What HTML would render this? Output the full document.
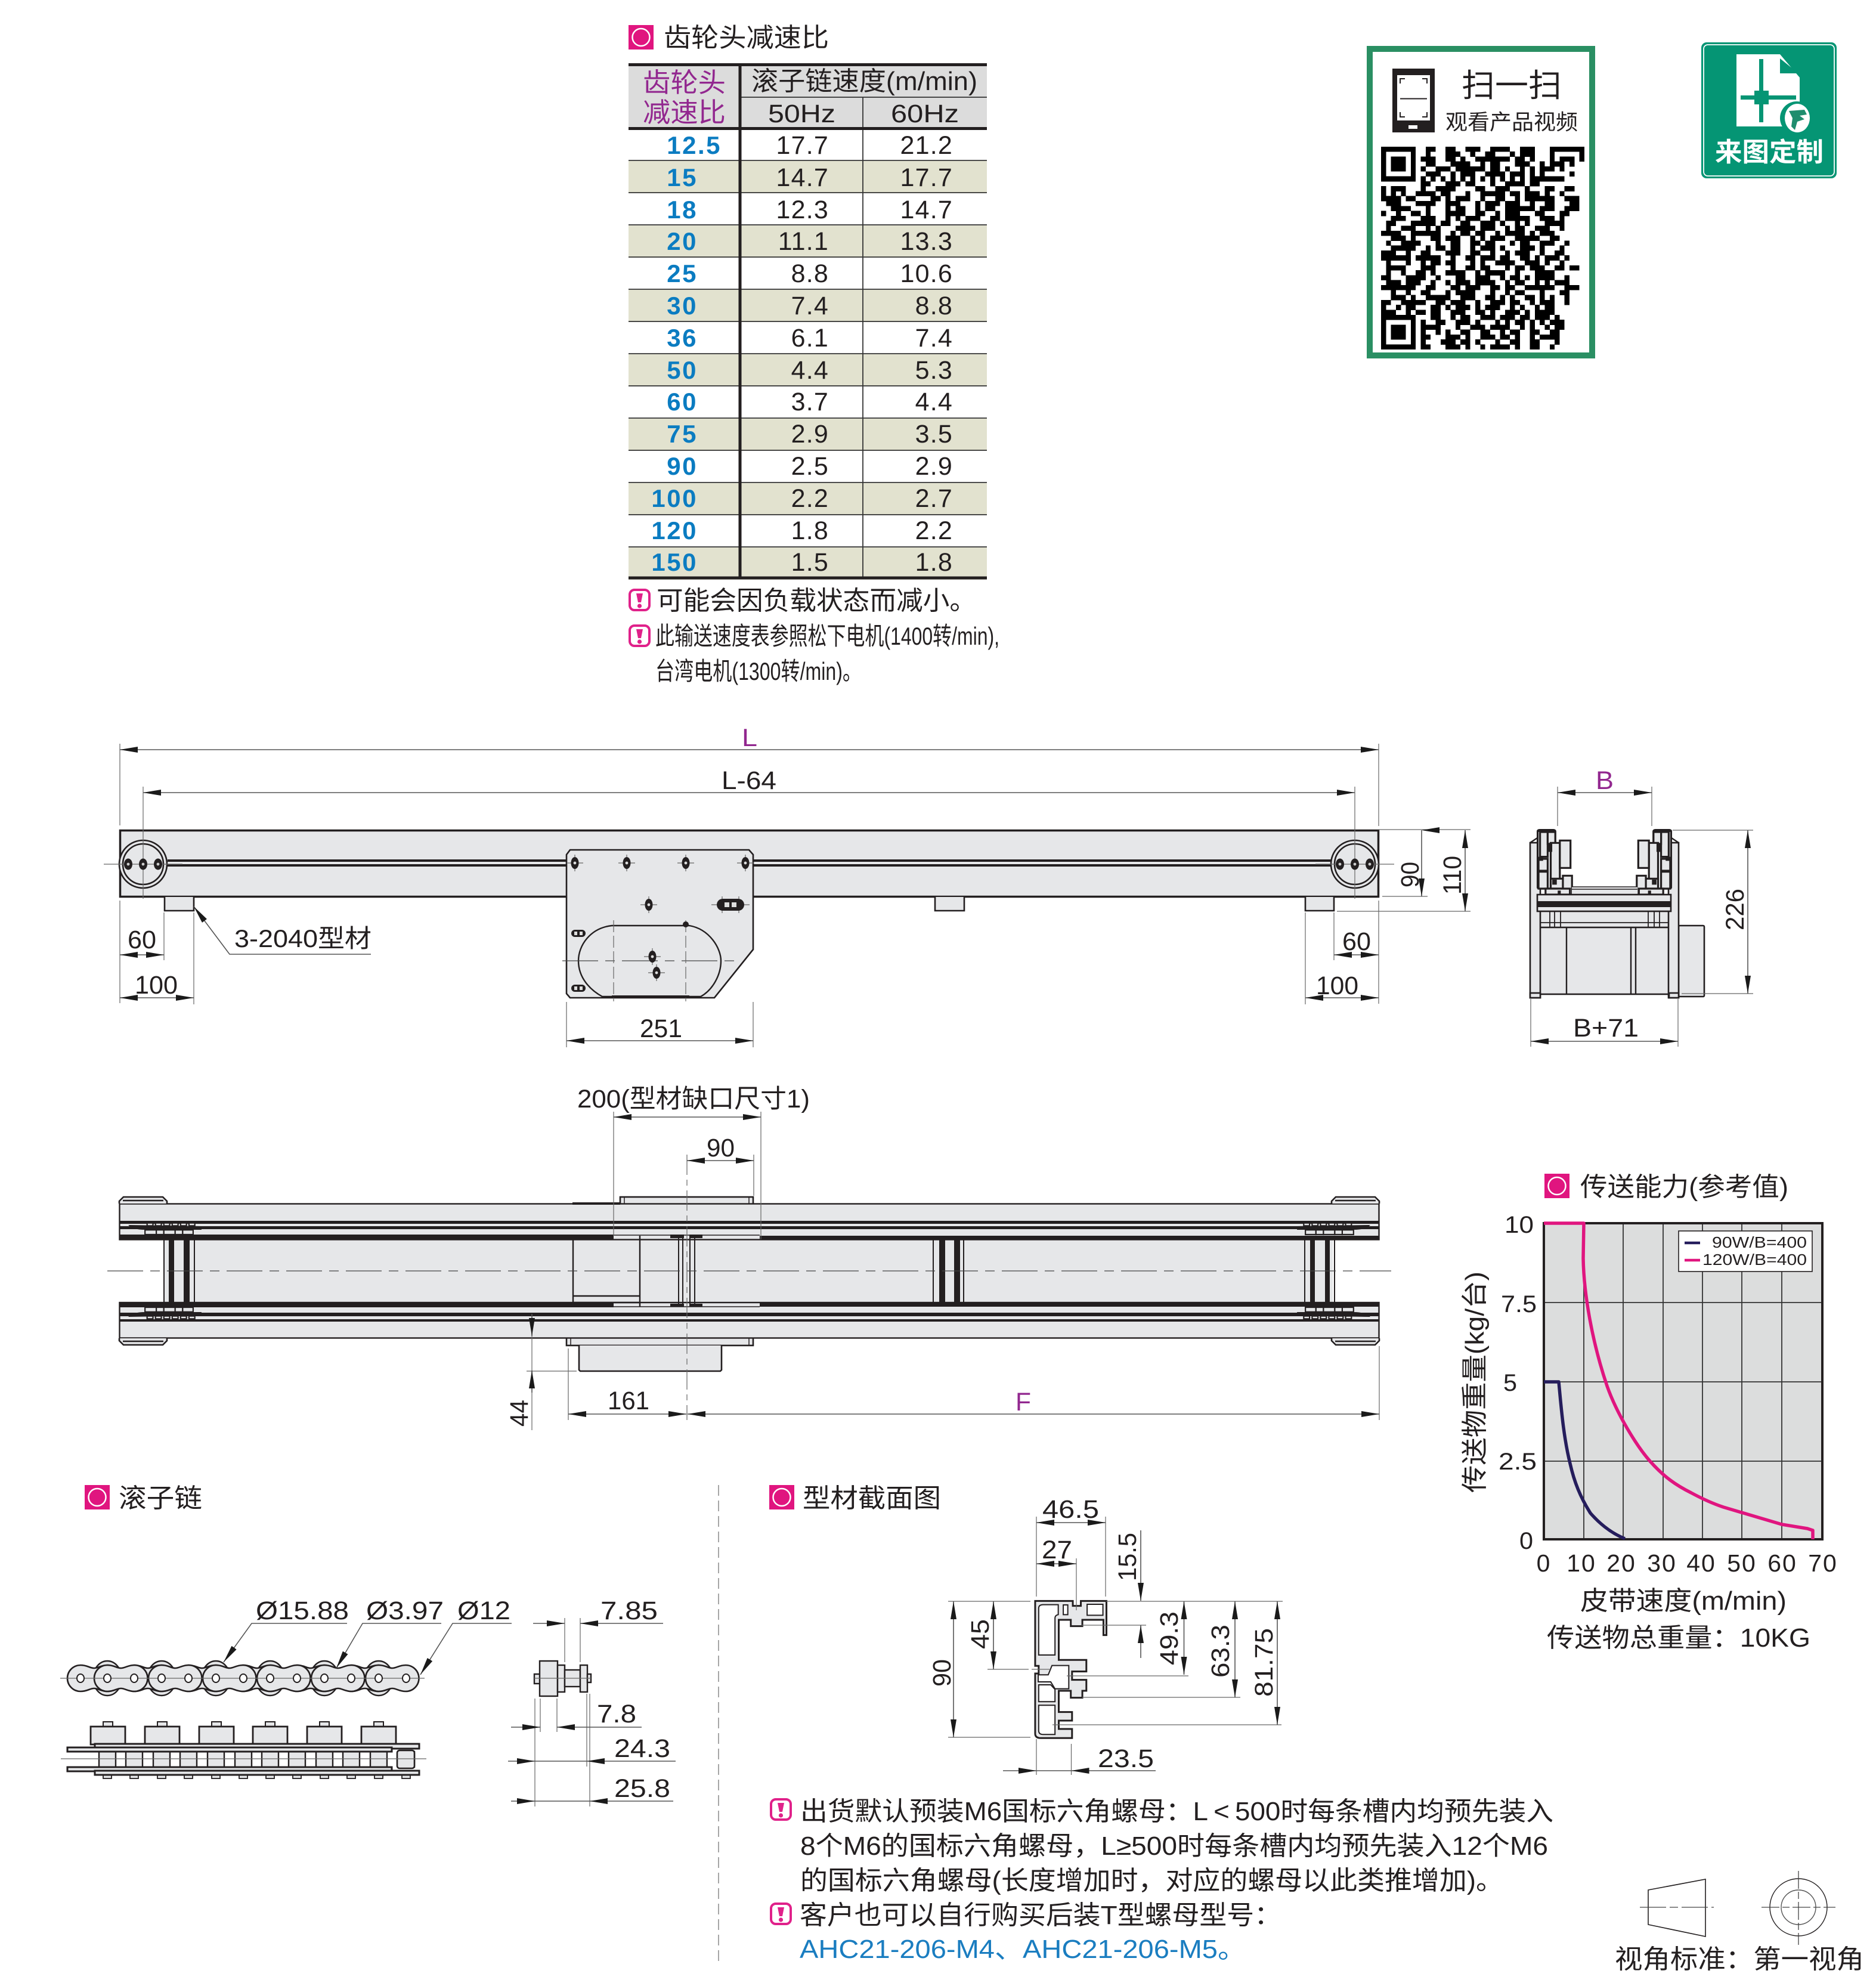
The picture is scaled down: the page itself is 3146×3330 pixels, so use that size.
<!DOCTYPE html>
<html><head><meta charset="utf-8"><title>AHC21 conveyor diagram</title>
<style>
html,body{margin:0;padding:0;background:#fff}
svg{display:block}
text{font-family:"Liberation Sans","Noto Sans CJK SC",sans-serif;fill:#231f20;font-size:43px}
.m{fill:#92278f}
.b{fill:#0b7cc1;font-weight:bold;font-size:42px;letter-spacing:2.5px}
.h{font-size:44px}
.d{stroke:#555;stroke-width:1.6;fill:none}
.e{stroke:#666;stroke-width:1.2;fill:none}
.o{stroke:#231f20;stroke-width:2.6;fill:#e6e7e9}
.l{stroke:#231f20;stroke-width:2.4;fill:none}
.k{stroke:#231f20;stroke-width:5;fill:none}
.c{stroke:#444;stroke-width:1.2;fill:none;stroke-dasharray:60 12 16 12}
.n{vector-effect:non-scaling-stroke}
.n *{vector-effect:non-scaling-stroke}
.g{stroke:#333;stroke-width:1.8;fill:none}
</style></head><body>
<svg xmlns="http://www.w3.org/2000/svg" width="3146" height="3330" viewBox="0 0 3146 3330">
<defs>
<marker id="a" markerWidth="30" markerHeight="10" refX="30" refY="5" orient="auto-start-reverse" markerUnits="userSpaceOnUse"><path d="M0 0L30 5L0 10z" fill="#1a1a1a"/></marker>
<g id="ic"><rect width="42" height="41" fill="#e0157f"/><circle cx="21" cy="20.5" r="14.5" fill="none" stroke="#fff" stroke-width="2.5"/></g>
<g id="w"><rect x="2" y="2" width="33" height="34" rx="8" fill="#fff" stroke="#e0218a" stroke-width="4"/><path d="M13 8H24L21 23H16z" fill="#e0218a"/><circle cx="18.5" cy="29" r="3.6" fill="#e0218a"/></g>
<g id="bt"><path d="M-14 0H14M0 -14V14" class="e"/><ellipse rx="6.5" ry="10" fill="#231f20"/><circle r="2.4" fill="#ddd"/></g>
<g id="sl"><rect x="-12" y="-6" width="24" height="12" rx="6" fill="#231f20"/><rect x="-7" y="-3" width="5" height="6" fill="#ddd"/><rect x="2" y="-3" width="5" height="6" fill="#ddd"/></g>
<g id="whl"><circle r="40" fill="#e6e7e9" stroke="#231f20" stroke-width="2.6"/><circle r="34" fill="none" stroke="#231f20" stroke-width="2.6"/><path d="M-66 0H66M0 -58V58" class="e"/><use href="#bt0" x="-25"/><use href="#bt0"/><use href="#bt0" x="25"/></g>
<g id="bt0"><ellipse rx="7" ry="9.5" fill="#231f20"/><circle r="2.4" fill="#ccc"/></g>
<path id="bone" d="M0 -22C12 -22 15 -17 23 -17C30 -17 34 -22 45.5 -22A22 22 0 0 1 45.5 22C34 22 30 17 23 17C15 17 12 22 0 22A22 22 0 0 1 0 -22z" fill="#e6e7e9" stroke="#231f20" stroke-width="2.6"/>
<g id="box"><rect x="-8" y="2887" width="16" height="8" fill="#e6e7e9" stroke="#231f20" stroke-width="2"/><rect x="-29" y="2895" width="58" height="30" fill="#e6e7e9" stroke="#231f20" stroke-width="2.8"/></g>
<g id="rol"><rect x="-14" y="2937" width="28" height="26" fill="#e6e7e9" stroke="#231f20" stroke-width="2.4"/><rect x="-7" y="2976" width="14" height="6" fill="#e6e7e9" stroke="#231f20" stroke-width="1.8"/></g>
<g id="endb">
<path d="M200 2018V2014L207 2007H273L280 2014V2018" class="o"/><path d="M206 2013H274" class="l" stroke-width="1.5"/>
<g class="n" transform="translate(180,1980) scale(.7018,.3333)">
<path d="M50 222L225 228V246H90Q60 246 50 222z" fill="#231f20"/>
<g fill="#e6e7e9" stroke="#231f20" stroke-width="2.2"><rect x="95" y="212" width="14" height="14"/><rect x="115" y="212" width="14" height="14"/><rect x="135" y="212" width="14" height="14"/><rect x="155" y="212" width="14" height="14"/><rect x="175" y="212" width="14" height="14"/><rect x="195" y="212" width="14" height="14"/><rect x="90" y="247" width="27" height="23"/><rect x="117" y="247" width="18" height="23"/><rect x="135" y="247" width="27" height="23"/><rect x="162" y="247" width="18" height="23"/><rect x="180" y="247" width="25" height="23"/></g>
</g>
</g>
<g id="ends"><use href="#endb"/><use href="#endb" transform="translate(0,4262) scale(1,-1)"/></g>
<g id="chn">
<rect x="2566" y="1413" width="17" height="260" class="o"/><path class="l" d="M2566 1413L2578 1405"/>
<g class="n" transform="translate(2200,1280) scale(.5102,.3333)">
<g fill="#e6e7e9" stroke="#231f20" stroke-width="3.200">
<rect x="742" y="335" width="58" height="295" rx="6"/><rect x="750" y="345" width="25" height="125"/><rect x="775" y="345" width="25" height="60"/><rect x="745" y="480" width="30" height="60"/><rect x="745" y="545" width="30" height="85"/><rect x="785" y="400" width="30" height="260"/><rect x="815" y="388" width="35" height="138"/><rect x="825" y="565" width="30" height="95"/><rect x="785" y="580" width="40" height="50"/><rect x="768" y="630" width="80" height="30"/>
</g>
<path fill="#231f20" d="M742 335H800V345H742zM778 400H790V445H778zM742 470H760V490H742zM790 585H805V610H790zM808 640H818V660H808z"/>
</g>
</g>
</defs>

<!-- speed table -->
<use href="#ic" x="1054" y="42"/>
<text x="1113" y="78" class="h" textLength="277" lengthAdjust="spacingAndGlyphs">齿轮头减速比</text>
<rect x="1054" y="108" width="601" height="108" fill="#dcdcdc"/>
<g fill="#e2e2cf"><rect x="1054" y="270" width="601" height="54"/><rect x="1054" y="378" width="601" height="54"/><rect x="1054" y="486" width="601" height="54"/><rect x="1054" y="594" width="601" height="54"/><rect x="1054" y="702" width="601" height="54"/><rect x="1054" y="810" width="601" height="54"/><rect x="1054" y="918" width="601" height="54"/></g>
<path class="g" d="M1241 163H1655M1054 269H1655M1054 323H1655M1054 377H1655M1054 431H1655M1054 485H1655M1054 539H1655M1054 593H1655M1054 647H1655M1054 701H1655M1054 755H1655M1054 809H1655M1054 863H1655M1054 917H1655M1447 163V971"/>
<path stroke="#231f20" stroke-width="5" fill="none" d="M1054 108.500H1655M1054 215.500H1655M1054 969H1655M1241 106V971"/>
<text x="1078" y="154" class="m" style="font-size:45px" textLength="139" lengthAdjust="spacingAndGlyphs">齿轮头</text>
<text x="1078" y="204" class="m" style="font-size:45px" textLength="139" lengthAdjust="spacingAndGlyphs">减速比</text>
<text x="1260" y="151" style="font-size:44px" textLength="379" lengthAdjust="spacingAndGlyphs">滚子链速度(m/min)</text>
<text x="1288" y="205" style="font-size:43px" textLength="113" lengthAdjust="spacingAndGlyphs">50Hz</text>
<text x="1494" y="205" style="font-size:43px" textLength="114" lengthAdjust="spacingAndGlyphs">60Hz</text>
<g text-anchor="end">
<text class="b" x="1210" y="258">12.5</text>
<text class="b" x="1170" y="312">15</text>
<text class="b" x="1170" y="366">18</text>
<text class="b" x="1170" y="419">20</text>
<text class="b" x="1170" y="473">25</text>
<text class="b" x="1170" y="527">30</text>
<text class="b" x="1170" y="581">36</text>
<text class="b" x="1170" y="635">50</text>
<text class="b" x="1170" y="688">60</text>
<text class="b" x="1170" y="742">75</text>
<text class="b" x="1170" y="796">90</text>
<text class="b" x="1170" y="850">100</text>
<text class="b" x="1170" y="904">120</text>
<text class="b" x="1170" y="957">150</text>
</g>
<g text-anchor="end" style="letter-spacing:1.2px">
<text x="1390" y="258">17.7</text><text x="1598" y="258">21.2</text>
<text x="1390" y="312">14.7</text><text x="1598" y="312">17.7</text>
<text x="1390" y="366">12.3</text><text x="1598" y="366">14.7</text>
<text x="1390" y="419">11.1</text><text x="1598" y="419">13.3</text>
<text x="1390" y="473">8.8</text><text x="1598" y="473">10.6</text>
<text x="1390" y="527">7.4</text><text x="1598" y="527">8.8</text>
<text x="1390" y="581">6.1</text><text x="1598" y="581">7.4</text>
<text x="1390" y="635">4.4</text><text x="1598" y="635">5.3</text>
<text x="1390" y="688">3.7</text><text x="1598" y="688">4.4</text>
<text x="1390" y="742">2.9</text><text x="1598" y="742">3.5</text>
<text x="1390" y="796">2.5</text><text x="1598" y="796">2.9</text>
<text x="1390" y="850">2.2</text><text x="1598" y="850">2.7</text>
<text x="1390" y="904">1.8</text><text x="1598" y="904">2.2</text>
<text x="1390" y="957">1.5</text><text x="1598" y="957">1.8</text>
</g>
<use href="#w" x="1054" y="987"/>
<text x="1101" y="1022" class="h" textLength="536" lengthAdjust="spacingAndGlyphs">可能会因负载状态而减小。</text>
<use href="#w" x="1054" y="1047"/>
<text x="1099" y="1081" style="font-size:42px" textLength="577" lengthAdjust="spacingAndGlyphs">此输送速度表参照松下电机(1400转/min),</text>
<text x="1099" y="1140" style="font-size:42px" textLength="346" lengthAdjust="spacingAndGlyphs">台湾电机(1300转/min)。</text>

<!-- QR card -->
<rect x="2297" y="82" width="373" height="514" fill="#fff" stroke="#2a8f63" stroke-width="10"/>
<rect x="2335" y="115" width="71" height="107" fill="#231f20"/><rect x="2343" y="126" width="55" height="76" fill="#fff"/><rect x="2362" y="210" width="15" height="6" fill="#fff"/>
<path d="M2348 140V132H2356M2393 140V132H2385M2348 188V196H2356M2393 188V196H2385M2348 165.500H2393" fill="none" stroke="#231f20" stroke-width="2"/>
<text x="2451" y="162" style="font-size:54px" textLength="168" lengthAdjust="spacingAndGlyphs">扫一扫</text>
<text x="2424" y="217" style="font-size:36px" textLength="222" lengthAdjust="spacingAndGlyphs">观看产品视频</text>
<g transform="translate(2316,246) scale(8.317,8.293)"><path fill="none" stroke="#000" stroke-width="1.050" shape-rendering="crispEdges" d="
M0 .5h7m2 0h2m2 0h2m2 0h3m2 0h4m2 0h3m3 0h7
M0 1.500h1m5 0h1m2 0h1m3 0h3m2 0h1m2 0h2m3 0h1m1 0h3m3 0h1m5 0h1
M0 2.500h1m1 0h3m1 0h1m1 0h3m2 0h2m1 0h1m2 0h7m1 0h2m1 0h1m3 0h1m1 0h3m1 0h1
M0 3.500h1m1 0h3m1 0h1m2 0h2m3 0h4m2 0h1m1 0h2m3 0h3m2 0h1m1 0h3m1 0h1
M0 4.500h1m1 0h3m1 0h1m1 0h1m2 0h3m1 0h6m1 0h2m1 0h1m2 0h1m1 0h1m1 0h3m1 0h1
M0 5.500h1m5 0h1m2 0h3m2 0h1m1 0h3m2 0h4m1 0h3m1 0h1m1 0h1m5 0h1
M0 6.500h7m1 0h1m1 0h1m1 0h1m1 0h1m1 0h1m1 0h1m1 0h1m1 0h1m1 0h1m1 0h1m1 0h1m1 0h7
M8 7.500h2m3 0h3m1 0h2m3 0h1m2 0h4m1 0h2
M0 8.500h1m1 0h3m3 0h1m2 0h4m4 0h2m2 0h3m3 0h1m3 0h2m2 0h2
M0 9.500h1m1 0h1m1 0h1m2 0h4m1 0h2m3 0h1m2 0h5m1 0h2m1 0h3m1 0h1m2 0h1
M0 10.500h4m1 0h2m3 0h2m1 0h1m1 0h3m2 0h1m2 0h2m2 0h1m1 0h6m2 0h3
M1 11.500h3m3 0h4m2 0h3m3 0h1m1 0h3m1 0h3m2 0h1m2 0h2m3 0h2
M2 12.500h4m3 0h1m3 0h1m1 0h2m2 0h1m1 0h2m2 0h6m1 0h3m2 0h3
M0 13.500h1m2 0h1m2 0h2m1 0h1m3 0h4m2 0h2m2 0h1m1 0h3m3 0h2m3 0h2
M2 14.500h3m3 0h3m2 0h1m1 0h1m1 0h3m2 0h2m1 0h5m2 0h3m1 0h1
M1 15.500h2m3 0h5m1 0h2m2 0h2m2 0h3m1 0h1m2 0h1m1 0h1m3 0h4
M1 16.500h1m2 0h3m2 0h1m1 0h1m3 0h4m1 0h3m2 0h1m1 0h2m2 0h3m2 0h1
M0 17.500h4m2 0h6m2 0h1m1 0h2m1 0h2m2 0h1m1 0h4m1 0h1m1 0h3
M2 18.500h3m1 0h1m3 0h2m1 0h3m2 0h1m1 0h1m1 0h3m2 0h5m2 0h2
M1 19.500h1m2 0h4m3 0h1m2 0h2m2 0h2m1 0h2m3 0h1m1 0h2m2 0h3m2 0h1
M2 20.500h5m2 0h1m1 0h2m1 0h2m2 0h1m1 0h3m1 0h1m3 0h3m1 0h1m3 0h1
M0 21.500h3m2 0h1m2 0h2m3 0h3m2 0h2m2 0h1m2 0h1m1 0h3m2 0h1m2 0h2
M0 22.500h6m1 0h5m2 0h1m2 0h2m1 0h3m1 0h2m2 0h2m1 0h1m1 0h3m1 0h1
M1 23.500h1m3 0h1m2 0h1m1 0h2m1 0h2m3 0h1m1 0h1m2 0h4m2 0h3m1 0h1m2 0h1
M1 24.500h4m3 0h3m3 0h1m2 0h2m1 0h2m3 0h1m1 0h2m1 0h3m2 0h2m1 0h2
M1 25.500h1m2 0h1m2 0h2m1 0h1m2 0h4m2 0h1m1 0h4m2 0h1m3 0h4
M0 26.500h2m3 0h4m2 0h1m3 0h2m2 0h3m2 0h1m1 0h2m1 0h1m1 0h4m2 0h1
M1 27.500h3m1 0h3m2 0h1m2 0h1m1 0h3m1 0h4m2 0h1m1 0h2m2 0h1m1 0h1m1 0h3
M0 28.500h7m2 0h2m3 0h2m1 0h3m2 0h2m1 0h2m2 0h6m2 0h3
M2 29.500h1m2 0h1m2 0h2m3 0h1m1 0h4m3 0h1m2 0h1m1 0h2m3 0h1m3 0h2
M2 30.500h3m1 0h1m2 0h5m2 0h3m2 0h2m1 0h1m1 0h1m2 0h2m1 0h1m1 0h1m2 0h1
M0 31.500h2m2 0h5m2 0h2m1 0h3m2 0h1m2 0h3m1 0h2m2 0h1m1 0h3m2 0h1
M0 32.500h1m2 0h1m1 0h2m3 0h2m1 0h1m1 0h3m1 0h1m1 0h3m2 0h1m1 0h1m2 0h1m1 0h2
M0 33.500h3m2 0h1m1 0h2m1 0h2m2 0h3m2 0h2m1 0h1m2 0h3m1 0h1m1 0h4
M0 34.500h7m3 0h2m2 0h1m1 0h2m2 0h3m1 0h3m1 0h2m1 0h3m1 0h1
M0 35.500h1m5 0h1m1 0h1m2 0h2m2 0h3m1 0h1m3 0h1m1 0h1m1 0h2m1 0h1m1 0h1m1 0h3
M0 36.500h1m1 0h3m1 0h1m1 0h4m3 0h1m2 0h3m1 0h4m2 0h1m1 0h1m2 0h1m1 0h2
M0 37.500h1m1 0h3m1 0h1m1 0h1m2 0h1m1 0h1m2 0h2m2 0h2m2 0h1m1 0h2m2 0h2m2 0h2
M0 38.500h1m1 0h3m1 0h1m1 0h2m3 0h3m1 0h1m2 0h3m1 0h2m1 0h1m2 0h1m1 0h4
M0 39.500h1m5 0h1m1 0h1m3 0h3m1 0h2m1 0h1m3 0h1m2 0h2m2 0h2m3 0h1
M0 40.500h7m1 0h2m3 0h3m1 0h1m2 0h1m1 0h4m1 0h1m2 0h2m2 0h1
"/></g>

<!-- badge -->
<rect x="2853" y="71" width="227" height="228" rx="9" fill="#059574"/>
<rect x="2857" y="75" width="219" height="220" rx="7" fill="none" stroke="#fff" stroke-width="1.8"/>
<path d="M2912 91H2985L3018 130V212H2912z" fill="#fff"/>
<path d="M2985 98L3016 123H2985zM2950 99H2957V152H2966V160H3012V167H2966V175H2957V205H2950V175H2942V167H2919V160H2942V152H2950z" fill="#059574"/>
<circle cx="3013" cy="198" r="28" fill="#059574"/><ellipse cx="3014" cy="198" rx="21" ry="24" fill="#fff"/>
<path d="M3000 186L3026 184L3030 192L3018 194L3026 200L3014 204L3010 218L3004 212L3006 198z" fill="#1f8d6e"/>
<text x="2876" y="270" style="font-size:44px;font-weight:bold;fill:#fff" textLength="182" lengthAdjust="spacingAndGlyphs">来图定制</text>

<!-- top view -->
<rect x="201.500" y="1392.500" width="2110" height="111" class="o" style="stroke-width:3.500px"/>
<path class="k" style="stroke-width:4" d="M281 1443H2232M281 1451H2232"/>
<use href="#whl" x="240" y="1449"/><use href="#whl" x="2272" y="1449"/>
<path class="o" d="M276 1504V1527H325V1504"/><path class="o" d="M1568 1504V1527H1617V1504"/><path class="o" d="M2189 1504V1527H2237V1504"/>
<path class="o" d="M956 1425H1256L1263 1433V1592L1198 1673H956L950 1666V1433z"/>
<path class="l" d="M1026 1552H1156C1190 1558 1209 1590 1209 1611C1209 1635 1195 1660 1175 1671H1010C990 1660 970 1640 970 1611C970 1585 990 1556 1026 1552z"/>
<path class="k" style="stroke-width:4" d="M1026 1671H1156"/>
<path d="M943 1611H1240" class="c"/><path d="M1029 1543V1679M1150 1543V1679" class="e" stroke-dasharray="20 6"/>
<use href="#bt" x="964" y="1447"/><use href="#bt" x="1051" y="1447"/><use href="#bt" x="1150" y="1447"/><use href="#bt" x="1250" y="1447"/><use href="#bt" x="1088" y="1517"/><use href="#bt" x="1094" y="1604"/><use href="#bt" x="1101" y="1631"/>
<use href="#sl" x="970" y="1565"/><use href="#sl" x="970" y="1657"/>
<g transform="translate(1225,1517)"><path class="e" d="M-32 0H32M-14 -14V14M14 -14V14"/><rect x="-23" y="-10" width="46" height="20" rx="10" fill="#231f20"/><rect x="-10" y="-4" width="8" height="8" fill="#ddd"/><rect x="2" y="-4" width="8" height="8" fill="#ddd"/></g>
<circle cx="1150" cy="1550" r="5" fill="#231f20"/>
<path class="d" marker-start="url(#a)" marker-end="url(#a)" d="M201 1257H2312"/>
<path class="d" marker-start="url(#a)" marker-end="url(#a)" d="M240 1329H2272"/>
<path class="e" d="M201 1247V1384M240 1319V1391M2312 1247V1385M2272 1319V1391M201 1510V1682M275 1530V1610M325 1530V1684M2312 1510V1683M2237 1530V1610M2189 1530V1684M950 1680V1756M1263 1680V1756"/>
<text x="1244" y="1251" class="m" style="font-size:42px" textLength="26" lengthAdjust="spacingAndGlyphs">L</text>
<text x="1210" y="1323" textLength="92" lengthAdjust="spacingAndGlyphs">L-64</text>
<path class="d" marker-start="url(#a)" marker-end="url(#a)" d="M201 1601H275"/>
<path class="d" marker-start="url(#a)" marker-end="url(#a)" d="M201 1673H325"/>
<path class="d" marker-start="url(#a)" marker-end="url(#a)" d="M2237 1601H2312"/>
<path class="d" marker-start="url(#a)" marker-end="url(#a)" d="M2189 1673H2312"/>
<path class="d" marker-start="url(#a)" marker-end="url(#a)" d="M950 1745H1263"/>
<path class="d" marker-end="url(#a)" d="M622 1600H385L325 1520"/>
<text x="214" y="1590" textLength="48" lengthAdjust="spacingAndGlyphs">60</text>
<text x="226" y="1666" textLength="72" lengthAdjust="spacingAndGlyphs">100</text>
<text x="393" y="1588" style="font-size:42px" textLength="230" lengthAdjust="spacingAndGlyphs">3-2040型材</text>
<text x="1073" y="1739" textLength="71" lengthAdjust="spacingAndGlyphs">251</text>
<text x="2251" y="1593" textLength="48" lengthAdjust="spacingAndGlyphs">60</text>
<text x="2207" y="1667" textLength="71" lengthAdjust="spacingAndGlyphs">100</text>
<path class="e" d="M2312 1391H2466M2318 1503H2394M2242 1528H2466"/>
<path class="d" marker-start="url(#a)" marker-end="url(#a)" d="M2384 1392H2384V1503"/>
<path class="d" marker-start="url(#a)" marker-end="url(#a)" d="M2457 1392V1528"/>
<text transform="translate(2379,1488) rotate(-90)" textLength="43" lengthAdjust="spacingAndGlyphs">90</text>
<text transform="translate(2450,1500) rotate(-90)" textLength="65" lengthAdjust="spacingAndGlyphs">110</text>

<!-- end view -->
<rect x="2815" y="1552" width="43" height="119" rx="2" class="o"/>
<rect x="2583" y="1528" width="217" height="27" fill="#e6e7e9"/>
<path class="l" style="stroke-width:1.800" d="M2583 1547H2800M2599 1528V1555M2607 1528V1555M2617 1528V1555M2764 1528V1555M2774 1528V1555M2783 1528V1555"/>
<rect x="2577" y="1555" width="223" height="112" class="o"/>
<path class="l" d="M2627 1555V1667M2735 1555V1667M2743 1555V1667"/>
<use href="#chn"/><use href="#chn" transform="translate(5381,0) scale(-1,1)"/>
<rect x="2636" y="1487" width="110" height="13" fill="#e6e7e9"/><path class="l" style="stroke-width:1.500" d="M2636 1487H2746M2636 1491H2746"/>
<rect x="2578" y="1500" width="224" height="28" class="o"/><rect x="2578" y="1511" width="224" height="10" fill="#231f20"/>
<rect x="2566" y="1665" width="17" height="8" class="o"/><rect x="2799" y="1665" width="16" height="8" class="o"/>
<path class="e" d="M2612 1319V1385M2770 1319V1385M2805 1392H2940M2820 1666H2940M2567 1675V1755M2814 1675V1755"/>
<path class="d" marker-start="url(#a)" marker-end="url(#a)" d="M2612 1329H2770"/>
<path class="d" marker-start="url(#a)" marker-end="url(#a)" d="M2931 1392V1666"/>
<path class="d" marker-start="url(#a)" marker-end="url(#a)" d="M2567 1746H2814"/>
<text x="2676" y="1323" class="m" textLength="30" lengthAdjust="spacingAndGlyphs">B</text>
<text x="2638" y="1738" textLength="110" lengthAdjust="spacingAndGlyphs">B+71</text>
<text transform="translate(2924,1560) rotate(-90)" textLength="70" lengthAdjust="spacingAndGlyphs">226</text>

<!-- section view -->
<rect x="1040" y="2007" width="223" height="13" class="o"/><path class="l" style="stroke-width:1.500" d="M1047 2007V2018M1256 2007V2018"/>
<rect x="950" y="2243" width="313" height="13" class="o"/><path class="l" style="stroke-width:1.500" d="M957 2244V2255M1256 2244V2255"/>
<path class="o" d="M971 2256V2297L973 2299H1208L1210 2297V2256"/>
<rect x="275" y="2078" width="1960" height="106" fill="#e6e7e9"/>
<rect x="200.500" y="2018.500" width="2112" height="60" fill="#e6e7e9" stroke="#231f20" stroke-width="2.400"/>
<rect x="200.500" y="2184" width="2112" height="59.500" fill="#e6e7e9" stroke="#231f20" stroke-width="2.400"/>
<path d="M960 2018H1040" class="k" style="stroke-width:4"/>
<path fill="#231f20" d="M200 2047H2313V2052H200zM200 2056H2313V2061H200zM200 2070H1029V2078H200zM1274 2072H2313V2078H1274zM200 2184H1029V2192H200zM1274 2185H2313V2191H1274zM200 2201H2313V2207H200zM200 2212H2313V2216H200z"/>
<path class="l" style="stroke-width:1.500" d="M1029 2071H1274M1029 2191H1274"/>
<path class="l" d="M961 2078V2184M1073 2072V2191M961 2173H1073M961 2184H1073"/>
<use href="#ends"/><use href="#ends" transform="translate(2513,0) scale(-1,1)"/>
<g class="l" style="stroke-width:2">
<path d="M275 2078V2184M326 2078V2184M1138 2072V2191M1145 2072V2191M1157 2072V2191M1165 2072V2191M1565 2078V2184M1616 2078V2184M2188 2078V2184M2238 2078V2184"/>
</g>
<path fill="#231f20" d="M283 2078h9v106h-9zM308 2078h10v106h-10zM1575 2078h10v106h-10zM1600 2078h10v106h-10zM2197 2078h8v106h-8zM2222 2078h8v106h-8zM1124 2070h23v6h-23zM1156 2070h22v6h-22zM1124 2186h23v5h-23zM1156 2186h22v5h-22z"/>
<path class="c" d="M180 2131H2333"/>
<path class="e" stroke-dasharray="34 8 10 8" d="M1152 1936V2381"/>
<path class="e" d="M1029 1864V2072M1276 1864V2078M1264 1936V2005M953 2261V2381M2313 2257V2381M883 2299H967M892 2203V2398"/>
<path class="d" marker-start="url(#a)" marker-end="url(#a)" d="M1029 1873H1276"/>
<path class="d" marker-start="url(#a)" marker-end="url(#a)" d="M1152 1946H1264"/>
<path class="d" marker-start="url(#a)" marker-end="url(#a)" d="M953 2371H1151"/>
<path class="d" marker-start="url(#a)" marker-end="url(#a)" d="M1153 2371H2313"/>
<path marker-end="url(#a)" d="M892 2205V2240" class="d"/>
<path marker-end="url(#a)" d="M892 2335V2298" class="d"/>
<text x="968" y="1857" textLength="390" lengthAdjust="spacingAndGlyphs">200(型材缺口尺寸1)</text>
<text x="1185" y="1939" textLength="47" lengthAdjust="spacingAndGlyphs">90</text>
<text x="1019" y="2363" textLength="70" lengthAdjust="spacingAndGlyphs">161</text>
<text x="1703" y="2365" class="m" textLength="26" lengthAdjust="spacingAndGlyphs">F</text>
<text transform="translate(885,2392) rotate(-90)" textLength="45" lengthAdjust="spacingAndGlyphs">44</text>

<!-- chart -->
<use href="#ic" x="2590" y="1968"/>
<text x="2650" y="2005" class="h" textLength="349" lengthAdjust="spacingAndGlyphs">传送能力(参考值)</text>
<rect x="2589" y="2051" width="467" height="530" fill="#dcdddd"/>
<path class="g" d="M2656 2051V2581M2722 2051V2581M2789 2051V2581M2855 2051V2581M2921 2051V2581M2988 2051V2581M2589 2184H3056M2589 2317H3056M2589 2450H3056"/>
<rect x="2589" y="2051" width="467" height="530" fill="none" stroke="#231f20" stroke-width="4"/>
<rect x="2815" y="2064" width="224" height="68" fill="#fff" stroke="#231f20" stroke-width="1.600"/>
<path d="M2825 2084H2851" stroke="#251d5c" stroke-width="4.500"/><path d="M2825 2113H2851" stroke="#e0157f" stroke-width="4.500"/>
<text x="2871" y="2092" style="font-size:26px" textLength="159" lengthAdjust="spacingAndGlyphs">90W/B=400</text>
<text x="2855" y="2121" style="font-size:26px" textLength="175" lengthAdjust="spacingAndGlyphs">120W/B=400</text>
<path fill="none" stroke="#251d5c" stroke-width="5.500" stroke-linejoin="round" d="M2589 2317H2614C2618 2360 2622 2410 2633 2454C2640 2485 2650 2510 2667 2537C2680 2552 2700 2570 2725 2580"/>
<path fill="none" stroke="#e0157f" stroke-width="5.500" stroke-linejoin="round" d="M2589 2051H2656L2655 2110C2656 2170 2670 2250 2695 2324C2712 2372 2745 2425 2767 2450C2790 2476 2810 2490 2836 2503C2860 2516 2875 2522 2890 2527L2988 2556L3031 2563L3040 2566V2581"/>
<g>
<text style="font-size:40px" x="2523" y="2067" textLength="49" lengthAdjust="spacingAndGlyphs">10</text>
<text style="font-size:40px" x="2517" y="2200" textLength="60" lengthAdjust="spacingAndGlyphs">7.5</text>
<text style="font-size:40px" x="2521" y="2332" textLength="23" lengthAdjust="spacingAndGlyphs">5</text>
<text style="font-size:40px" x="2513" y="2464" textLength="64" lengthAdjust="spacingAndGlyphs">2.5</text>
<text style="font-size:40px" x="2548" y="2597" textLength="23" lengthAdjust="spacingAndGlyphs">0</text>
</g>
<g text-anchor="middle" style="letter-spacing:2px">
<text style="font-size:41px" x="2589" y="2635">0</text>
<text style="font-size:41px" x="2652" y="2635">10</text>
<text style="font-size:41px" x="2719" y="2635">20</text>
<text style="font-size:41px" x="2787" y="2635">30</text>
<text style="font-size:41px" x="2853" y="2635">40</text>
<text style="font-size:41px" x="2921" y="2635">50</text>
<text style="font-size:41px" x="2989" y="2635">60</text>
<text style="font-size:41px" x="3057" y="2635">70</text>
</g>
<text x="2650" y="2699" class="h" textLength="346" lengthAdjust="spacingAndGlyphs">皮带速度(m/min)</text>
<text x="2594" y="2761" class="h" textLength="442" lengthAdjust="spacingAndGlyphs">传送物总重量：10KG</text>
<text transform="translate(2488,2503) rotate(-90)" class="h" textLength="371" lengthAdjust="spacingAndGlyphs">传送物重量(kg/台)</text>

<!-- roller chain -->
<use href="#ic" x="142" y="2490"/>
<text x="199" y="2527" class="h" textLength="140" lengthAdjust="spacingAndGlyphs">滚子链</text>
<path d="M1205 2490V3290" stroke="#777" stroke-width="1.300" stroke-dasharray="18 8" fill="none"/>
<g fill="#e6e7e9" stroke="#231f20" stroke-width="2.400">
<ellipse cx="180" cy="2814" rx="24" ry="29"/><ellipse cx="271" cy="2814" rx="24" ry="29"/><ellipse cx="362" cy="2814" rx="24" ry="29"/><ellipse cx="453" cy="2814" rx="24" ry="29"/><ellipse cx="544" cy="2814" rx="24" ry="29"/><ellipse cx="635" cy="2814" rx="24" ry="29"/>
</g>
<use href="#bone" transform="translate(135,2814)"/><use href="#bone" transform="translate(225,2814)"/><use href="#bone" transform="translate(316,2814)"/><use href="#bone" transform="translate(408,2814)"/><use href="#bone" transform="translate(498,2814)"/><use href="#bone" transform="translate(589,2814)"/>
<use href="#bone" transform="translate(180,2814)"/><use href="#bone" transform="translate(271,2814)"/><use href="#bone" transform="translate(362,2814)"/><use href="#bone" transform="translate(453,2814)"/><use href="#bone" transform="translate(544,2814)"/><use href="#bone" transform="translate(635,2814)"/>
<path class="e" d="M101 2814H712"/>
<g fill="#fff" stroke="#231f20" stroke-width="2"><ellipse cx="135" cy="2814" rx="6" ry="7"/><ellipse cx="180" cy="2814" rx="6" ry="7"/><ellipse cx="225" cy="2814" rx="6" ry="7"/><ellipse cx="271" cy="2814" rx="6" ry="7"/><ellipse cx="316" cy="2814" rx="6" ry="7"/><ellipse cx="362" cy="2814" rx="6" ry="7"/><ellipse cx="408" cy="2814" rx="6" ry="7"/><ellipse cx="453" cy="2814" rx="6" ry="7"/><ellipse cx="498" cy="2814" rx="6" ry="7"/><ellipse cx="544" cy="2814" rx="6" ry="7"/><ellipse cx="589" cy="2814" rx="6" ry="7"/><ellipse cx="635" cy="2814" rx="6" ry="7"/><ellipse cx="681" cy="2814" rx="6" ry="7"/></g>
<use href="#box" x="181"/><use href="#box" x="272"/><use href="#box" x="363"/><use href="#box" x="453"/><use href="#box" x="544"/><use href="#box" x="635"/>
<g><use href="#rol" x="180"/><use href="#rol" x="225"/><use href="#rol" x="271"/><use href="#rol" x="316"/><use href="#rol" x="362"/><use href="#rol" x="408"/><use href="#rol" x="453"/><use href="#rol" x="498"/><use href="#rol" x="544"/><use href="#rol" x="589"/><use href="#rol" x="635"/><use href="#rol" x="681"/></g>
<g fill="#e6e7e9" stroke="#231f20" stroke-width="3"><rect x="159" y="2924" width="544" height="8"/><rect x="113" y="2930" width="544" height="7"/><rect x="113" y="2963" width="544" height="7"/><rect x="159" y="2969" width="544" height="7"/></g>
<rect x="666" y="2935" width="29" height="30" rx="4" fill="#e6e7e9" stroke="#231f20" stroke-width="2.600"/>
<path class="e" d="M102 2949H715"/>
<path class="d" marker-end="url(#a)" d="M582 2722H422L375 2787"/>
<path class="d" marker-end="url(#a)" d="M740 2722H608L564 2797"/>
<path class="d" marker-end="url(#a)" d="M858 2722H759L705 2808"/>
<text x="429" y="2715" textLength="156" lengthAdjust="spacingAndGlyphs">Ø15.88</text>
<text x="614" y="2715" textLength="130" lengthAdjust="spacingAndGlyphs">Ø3.97</text>
<text x="767" y="2715" textLength="89" lengthAdjust="spacingAndGlyphs">Ø12</text>
<g fill="#e6e7e9" stroke="#231f20" stroke-width="2.400">
<rect x="896" y="2807" width="10" height="16"/><rect x="905" y="2785" width="30" height="59"/><rect x="935" y="2792" width="12" height="45"/><rect x="947" y="2800" width="26" height="28"/><rect x="973" y="2792" width="12" height="45"/><rect x="985" y="2807" width="6" height="14"/>
</g>
<path class="e" d="M896 2814H991M947 2713V2787M973 2713V2787M906 2848V2904M934 2848V2904M897 2848V3029M984 2840V2962M989 2840V3029"/>
<path class="d" marker-end="url(#a)" d="M894 2722H947"/><path class="d" marker-end="url(#a)" d="M1112 2722H973"/>
<path class="d" marker-end="url(#a)" d="M857 2896H906"/><path class="d" marker-end="url(#a)" d="M1076 2896H934"/>
<path class="d" marker-end="url(#a)" d="M852 2953H897"/><path class="d" marker-end="url(#a)" d="M1133 2953H984"/>
<path class="d" marker-end="url(#a)" d="M857 3020H897"/><path class="d" marker-end="url(#a)" d="M1129 3020H989"/>
<path class="d" d="M897 2953H984M897 3020H989"/>
<text x="1007" y="2715" textLength="96" lengthAdjust="spacingAndGlyphs">7.85</text>
<text x="1001" y="2888" textLength="66" lengthAdjust="spacingAndGlyphs">7.8</text>
<text x="1030" y="2946" textLength="94" lengthAdjust="spacingAndGlyphs">24.3</text>
<text x="1030" y="3013" textLength="94" lengthAdjust="spacingAndGlyphs">25.8</text>

<!-- profile -->
<use href="#ic" x="1290" y="2490"/>
<text x="1346" y="2527" class="h" textLength="232" lengthAdjust="spacingAndGlyphs">型材截面图</text>
<g class="n" transform="translate(1560,2500) scale(.4209,.3333)">
<path fill="#e6e7e9" stroke="#231f20" stroke-width="3" d="M418 553H568V578H600V553H702V725H690V648H606V680H560V648H512V850H622V908H565V950H622V1005H606V1040H560V1005H512V1112H565V1155H512V1197H565V1243H440Q418 1243 418 1220V918H432V880H418z"/>
<g fill="#fff" stroke="#231f20" stroke-width="2">
<path d="M432 810V590Q432 572 450 572H510V622Q497 625 497 640V825H432z"/>
<rect x="625" y="570" width="63" height="55"/>
<path d="M530 573H548V622H530z"/>
<path d="M485 878H552V995H497L480 960H430V925H470z"/>
<path d="M432 975H480L497 998V1060H432z"/>
<path d="M432 1078H497V1225H450Q432 1225 432 1205z"/>
</g>
</g>
<path class="e" d="M1738 2543V2677M1854 2543V2677M1805 2613V2700M1590 2685H1728M1855 2685H2151M1590 2913H1728M1656 2799H1725M1730 2799H1760M1813 2725H1922M1789 2810H1993M1815 2846H2080M1765 2892H2149M1738 2916V2976M1796.500 2924V2976"/>
<path class="d" marker-start="url(#a)" marker-end="url(#a)" d="M1738 2553H1854"/>
<path class="d" marker-start="url(#a)" marker-end="url(#a)" d="M1738 2622H1805"/>
<path class="d" marker-end="url(#a)" d="M1913 2566V2684"/><path class="d" marker-end="url(#a)" d="M1913 2780V2725"/>
<path class="d" marker-start="url(#a)" marker-end="url(#a)" d="M1985.500 2685V2808"/>
<path class="d" marker-start="url(#a)" marker-end="url(#a)" d="M2071 2685V2846"/>
<path class="d" marker-start="url(#a)" marker-end="url(#a)" d="M2142 2685V2892"/>
<path class="d" marker-start="url(#a)" marker-end="url(#a)" d="M1599 2685V2913"/>
<path class="d" marker-start="url(#a)" marker-end="url(#a)" d="M1666 2685V2799"/>
<path class="d" marker-end="url(#a)" d="M1682 2969H1738"/><path class="d" marker-end="url(#a)" d="M1938 2969H1796.500"/><path class="d" d="M1738 2969H1796"/>
<text x="1748" y="2545" textLength="95" lengthAdjust="spacingAndGlyphs">46.5</text>
<text x="1747" y="2613" textLength="51" lengthAdjust="spacingAndGlyphs">27</text>
<text x="1841" y="2963" textLength="94" lengthAdjust="spacingAndGlyphs">23.5</text>
<text transform="translate(1905,2651) rotate(-90)" textLength="81" lengthAdjust="spacingAndGlyphs">15.5</text>
<text transform="translate(1975,2792) rotate(-90)" textLength="90" lengthAdjust="spacingAndGlyphs">49.3</text>
<text transform="translate(2061,2813) rotate(-90)" textLength="89" lengthAdjust="spacingAndGlyphs">63.3</text>
<text transform="translate(2134,2845) rotate(-90)" textLength="115" lengthAdjust="spacingAndGlyphs">81.75</text>
<text transform="translate(1594,2828) rotate(-90)" textLength="46" lengthAdjust="spacingAndGlyphs">90</text>
<text transform="translate(1658,2765) rotate(-90)" textLength="50" lengthAdjust="spacingAndGlyphs">45</text>

<!-- notes -->
<use href="#w" x="1291" y="3015"/>
<text x="1342" y="3052" class="h" textLength="1263" lengthAdjust="spacingAndGlyphs">出货默认预装M6国标六角螺母：L&#8201;&lt;&#8201;500时每条槽内均预先装入</text>
<text x="1342" y="3110" class="h" textLength="1254" lengthAdjust="spacingAndGlyphs">8个M6的国标六角螺母，L≥500时每条槽内均预先装入12个M6</text>
<text x="1342" y="3168" class="h" textLength="1179" lengthAdjust="spacingAndGlyphs">的国标六角螺母(长度增加时，对应的螺母以此类推增加)。</text>
<use href="#w" x="1291" y="3190"/>
<text x="1341" y="3226" class="h" textLength="808" lengthAdjust="spacingAndGlyphs">客户也可以自行购买后装T型螺母型号：</text>
<text x="1341" y="3283" class="h" style="fill:#1a7dc0" textLength="748" lengthAdjust="spacingAndGlyphs">AHC21-206-M4、AHC21-206-M5。</text>

<!-- view symbol -->
<path class="l" style="stroke-width:1.600" d="M2764 3169L2860 3151V3247L2764 3227z"/>
<circle cx="3016" cy="3198" r="48" class="l" style="stroke-width:1.400"/><circle cx="3016" cy="3198" r="29" class="l" style="stroke:#555;stroke-width:1.400"/>
<path d="M2750 3198H2874" stroke="#444" stroke-width="1.300" stroke-dasharray="44 6 14 6" fill="none"/>
<path d="M2954 3198H3078M3016 3137V3261" stroke="#444" stroke-width="1.300" stroke-dasharray="30 5 12 5" fill="none"/>
<text x="2708" y="3300" class="h" textLength="418" lengthAdjust="spacingAndGlyphs">视角标准：第一视角</text>
</svg>
</body></html>
